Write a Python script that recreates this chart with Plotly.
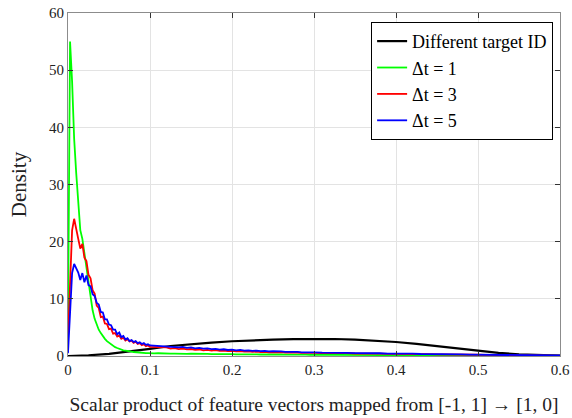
import plotly.graph_objects as go

# ---- data ----
x_fine = [0.0, 0.0025, 0.005, 0.0075, 0.01, 0.0125, 0.015, 0.0175, 0.02, 0.0225,
          0.025, 0.0275, 0.03, 0.0325, 0.035, 0.0375, 0.04, 0.0425, 0.045, 0.0475,
          0.05, 0.0525, 0.055, 0.0575, 0.06, 0.0625, 0.065, 0.0675, 0.07, 0.0725,
          0.075, 0.0775, 0.08, 0.0825, 0.085, 0.0875, 0.09, 0.0925, 0.095, 0.0975, 0.1]
x_mid = [0.105, 0.11, 0.115, 0.12, 0.125, 0.13, 0.135, 0.14, 0.145, 0.15,
         0.155, 0.16, 0.165, 0.17, 0.175, 0.18, 0.185, 0.19, 0.195, 0.2,
         0.205, 0.21, 0.215, 0.22, 0.225, 0.23, 0.235, 0.24, 0.245, 0.25,
         0.255, 0.26, 0.265, 0.27, 0.275, 0.28, 0.285, 0.29, 0.295, 0.3]
x_tail = [0.31, 0.32, 0.33, 0.34, 0.35, 0.36, 0.37, 0.38, 0.39, 0.4,
          0.41, 0.42, 0.43, 0.44, 0.45, 0.46, 0.47, 0.48, 0.49, 0.5,
          0.51, 0.52, 0.53, 0.54, 0.55, 0.56, 0.57, 0.58, 0.59, 0.6]

dt1_fine = [5.0, 55.0, 48.0, 38.0, 32.0, 27.0, 22.0, 20.5, 18.0, 15.0,
            12.5, 10.0, 8.0, 6.5, 5.5, 4.6, 4.0, 3.4, 3.0, 2.6,
            2.3, 2.0, 1.8, 1.55, 1.4, 1.25, 1.1, 1.0, 0.95, 0.85,
            0.8, 0.75, 0.7, 0.65, 0.62, 0.6, 0.55, 0.56, 0.5, 0.52, 0.48]
dt1_mid = [0.46, 0.48, 0.42, 0.45, 0.40, 0.43, 0.38, 0.41, 0.37, 0.39,
           0.35, 0.38, 0.34, 0.36, 0.33, 0.35, 0.31, 0.34, 0.30, 0.32,
           0.29, 0.31, 0.28, 0.30, 0.27, 0.29, 0.26, 0.28, 0.25, 0.27,
           0.24, 0.26, 0.23, 0.25, 0.22, 0.24, 0.21, 0.23, 0.20, 0.22]
dt1_tail = [0.20, 0.19, 0.20, 0.18, 0.17, 0.18, 0.16, 0.15, 0.16, 0.14,
            0.13, 0.14, 0.12, 0.12, 0.11, 0.10, 0.10, 0.09, 0.09, 0.08,
            0.08, 0.07, 0.07, 0.06, 0.06, 0.05, 0.05, 0.05, 0.04, 0.04]

dt3_fine = [3.0, 13.0, 22.0, 24.0, 22.0, 20.5, 18.8, 19.6, 17.2, 16.6,
            14.2, 13.6, 11.5, 10.9, 8.8, 8.4, 6.8, 6.9, 5.7, 5.6,
            4.7, 4.8, 3.9, 4.0, 3.4, 3.6, 3.0, 3.2, 2.7, 2.95,
            2.55, 2.7, 2.3, 2.5, 2.1, 2.25, 1.9, 2.05, 1.7, 1.85, 1.6]
dt3_mid = [1.55, 1.62, 1.45, 1.50, 1.30, 1.38, 1.22, 1.30, 1.15, 1.22,
           1.08, 1.14, 1.00, 1.08, 0.95, 1.02, 0.90, 0.96, 0.85, 0.90,
           0.80, 0.86, 0.75, 0.82, 0.72, 0.78, 0.68, 0.74, 0.65, 0.70,
           0.62, 0.67, 0.60, 0.64, 0.57, 0.61, 0.55, 0.58, 0.52, 0.55]
dt3_tail = [0.50, 0.52, 0.47, 0.49, 0.44, 0.46, 0.41, 0.42, 0.38, 0.39,
            0.35, 0.36, 0.32, 0.33, 0.29, 0.30, 0.26, 0.27, 0.23, 0.22,
            0.20, 0.19, 0.17, 0.16, 0.14, 0.13, 0.11, 0.10, 0.09, 0.08]

dt5_fine = [0.5, 8.0, 14.5, 16.1, 15.2, 14.6, 13.3, 14.5, 12.9, 14.1,
            12.4, 12.2, 10.8, 10.5, 9.3, 9.0, 7.7, 7.6, 6.4, 6.4,
            5.5, 5.4, 4.6, 4.6, 3.8, 4.1, 3.3, 3.5, 2.9, 3.1,
            2.6, 2.8, 2.45, 2.6, 2.25, 2.4, 2.1, 2.25, 1.95, 2.05, 1.85]
dt5_mid = [1.80, 1.88, 1.70, 1.76, 1.60, 1.66, 1.52, 1.58, 1.42, 1.50,
           1.35, 1.42, 1.28, 1.34, 1.20, 1.26, 1.12, 1.18, 1.05, 1.10,
           1.00, 1.06, 0.95, 1.00, 0.90, 0.95, 0.85, 0.90, 0.80, 0.85,
           0.76, 0.80, 0.72, 0.76, 0.68, 0.72, 0.64, 0.68, 0.60, 0.63]
dt5_tail = [0.58, 0.60, 0.54, 0.56, 0.50, 0.52, 0.46, 0.48, 0.42, 0.44,
            0.38, 0.40, 0.35, 0.36, 0.32, 0.32, 0.28, 0.28, 0.25, 0.24,
            0.21, 0.20, 0.18, 0.17, 0.15, 0.14, 0.12, 0.11, 0.10, 0.09]

x_diff = [0.0, 0.025, 0.05, 0.075, 0.1, 0.125, 0.15, 0.175, 0.2, 0.225,
          0.25, 0.275, 0.3, 0.325, 0.35, 0.375, 0.4, 0.425, 0.45, 0.475,
          0.5, 0.525, 0.55, 0.575, 0.6]
diff_target = [0.0, 0.12, 0.38, 0.78, 1.25, 1.75, 2.1, 2.35, 2.58, 2.75,
               2.87, 2.95, 3.0, 2.97, 2.85, 2.7, 2.45, 2.12, 1.75, 1.3,
               0.9, 0.55, 0.3, 0.15, 0.08]

series = [
    ("Different target ID", x_diff, diff_target, "#000000", 2.2),
    ("\u0394t = 1", x_fine + x_mid + x_tail, dt1_fine + dt1_mid + dt1_tail, "#00ff00", 1.8),
    ("\u0394t = 3", x_fine + x_mid + x_tail, dt3_fine + dt3_mid + dt3_tail, "#ff0000", 1.8),
    ("\u0394t = 5", x_fine + x_mid + x_tail, dt5_fine + dt5_mid + dt5_tail, "#0000ff", 1.8),
]

x_ticks = [0, 0.1, 0.2, 0.3, 0.4, 0.5, 0.6]
y_ticks = [0, 10, 20, 30, 40, 50, 60]

FONT = "Liberation Serif, Times New Roman, serif"

fig = go.Figure()
for name, xs, ys, col, w in series:
    fig.add_trace(go.Scatter(x=xs, y=ys, mode="lines", name=name,
                             line=dict(color=col, width=w)))

axis_common = dict(
    showline=True, linecolor="#8c8c8c", linewidth=1, mirror="ticks",
    ticks="inside", ticklen=5, tickcolor="#333333",
    showgrid=True, gridcolor="#e3e3e3", gridwidth=1, zeroline=False,
    automargin=False, ticklabeloverflow="allow",
    tickfont=dict(family=FONT, size=15, color="#222222"),
)

fig.update_layout(
    width=572, height=418,
    margin=dict(l=68, r=12, t=13, b=62, autoexpand=False),
    paper_bgcolor="white", plot_bgcolor="white",
    font=dict(family=FONT, color="#222222"),
    xaxis=dict(range=[0, 0.6], tickvals=x_ticks, ticktext=[str(v) for v in x_ticks],
               title=dict(text="Scalar product of feature vectors mapped from [-1, 1] \u2192 [1, 0]",
                          font=dict(family=FONT, size=19.5), standoff=20),
               **axis_common),
    yaxis=dict(range=[0, 60], tickvals=y_ticks, ticktext=[str(v) for v in y_ticks],
               title=dict(text="Density", font=dict(family=FONT, size=21), standoff=16),
               **axis_common),
    legend=dict(x=0.986, y=0.974, xanchor="right", yanchor="top",
                bgcolor="white", bordercolor="#000000", borderwidth=1,
                font=dict(family=FONT, size=18, color="#000000"),
                tracegroupgap=0, itemwidth=30),
    showlegend=True,
)

fig.write_html("out.html", config={"displayModeBar": False},
               post_script="document.body.style.margin='0';")
